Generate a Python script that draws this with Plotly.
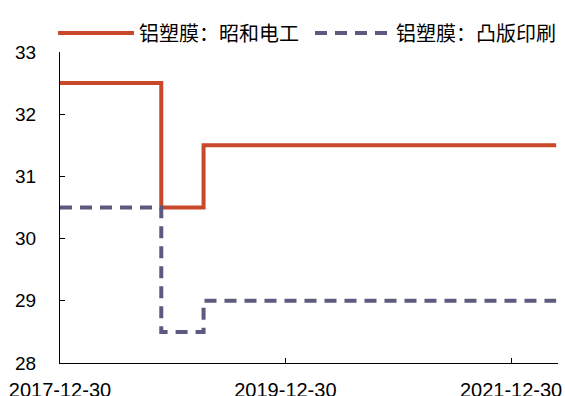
import plotly.graph_objects as go

dates = ["2017-12-30", "2018-11-23", "2019-04-09", "2022-05-25"]
showa_denko = [32.5, 30.5, 31.5, 31.5]
toppan = [30.5, 28.5, 29.0, 29.0]
series_names = ["铝塑膜：昭和电工", "铝塑膜：凸版印刷"]
x_tick_vals = ["2017-12-30", "2019-12-30", "2021-12-30"]
y_tick_vals = [28, 29, 30, 31, 32, 33]

RED = "#C9472B"
PURPLE = "#5C5B7F"

fig = go.Figure()
fig.add_trace(go.Scatter(x=dates, y=showa_denko, mode="lines", line_shape="hv",
                         name=series_names[0], line=dict(color=RED, width=4)))
fig.add_trace(go.Scatter(x=dates, y=toppan, mode="lines", line_shape="hv",
                         name=series_names[1], line=dict(color=PURPLE, width=4, dash="12px,8px")))

fig.update_layout(
    width=565, height=396,
    margin=dict(l=60, r=7, t=52, b=33, autoexpand=False),
    plot_bgcolor="white", paper_bgcolor="white",
    font=dict(family="Liberation Sans, Arial, Noto Sans CJK SC", size=19, color="#000000"),
    showlegend=True,
    legend=dict(orientation="h", x=-0.014, xanchor="left", y=1.061, yanchor="middle",
                font=dict(family="Noto Sans CJK SC", size=20, color="#000000"),
                itemwidth=76, entrywidth=166, tracegroupgap=0, bgcolor="rgba(0,0,0,0)"),
)
fig.update_xaxes(type="date", range=["2017-12-30", "2022-05-31"],
                 tickvals=x_tick_vals, ticktext=x_tick_vals,
                 showline=True, linecolor="#000000", linewidth=1,
                 ticks="inside", ticklen=5, tickcolor="#000000",
                 showgrid=False, zeroline=False, automargin=False,
                 ticklabelstandoff=9,
                 tickfont=dict(family="Liberation Sans, Arial", size=20))
fig.update_yaxes(range=[28, 33], tickvals=y_tick_vals,
                 showline=True, linecolor="#000000", linewidth=1,
                 ticks="inside", ticklen=5, tickcolor="#000000",
                 showgrid=False, zeroline=False, automargin=False,
                 ticklabelstandoff=19,
                 tickfont=dict(family="Liberation Sans, Arial", size=19))

fig.write_html("out.html",
               config={"displayModeBar": False},
               post_script="document.body.style.margin='0';document.body.style.overflow='hidden';")
